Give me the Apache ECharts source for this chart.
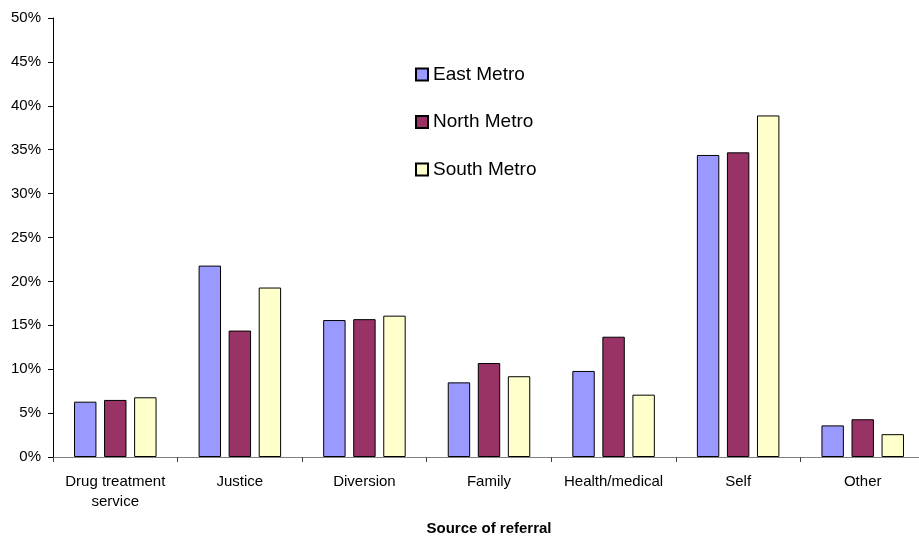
<!DOCTYPE html>
<html>
<head>
<meta charset="utf-8">
<script src="https://cdn.jsdelivr.net/npm/echarts@6/dist/echarts.min.js"></script>
<style>
  html, body { margin: 0; padding: 0; background: #fff; }
  #chart { width: 919px; height: 536px; }
</style>
</head>
<body>
<div id="chart"></div>
<script>
// Source of referral, share of clients by metro region (%)
const categories = ['Drug treatment\nservice', 'Justice', 'Diversion', 'Family', 'Health/medical', 'Self', 'Other'];
const eastMetro  = [6.3, 21.8, 15.6, 8.5, 9.8, 34.4, 3.6];
const northMetro = [6.5, 14.4, 15.7, 10.7, 13.7, 34.7, 4.3];
const southMetro = [6.8, 19.3, 16.1, 9.2, 7.1, 38.9, 2.6];
const seriesNames = ['East Metro', 'North Metro', 'South Metro'];
const seriesColors = ['#9999FF', '#993366', '#FFFFCC'];

const FONT = '"Liberation Sans", Arial, sans-serif';
const values = [eastMetro, northMetro, southMetro];

const chart = echarts.init(document.getElementById('chart'), null, { renderer: 'canvas' });

chart.setOption({
  animation: false,
  backgroundColor: '#ffffff',
  textStyle: { fontFamily: FONT, color: '#000' },
  grid: { left: 53, right: -6, top: 18, bottom: 79, containLabel: false, outerBoundsMode: 'none' },
  legend: {
    orient: 'vertical',
    left: 410,
    top: 60,
    itemWidth: 12,
    itemHeight: 12,
    itemGap: 28.5,
    icon: 'rect',
    textStyle: { fontFamily: FONT, fontSize: 19, color: '#000' },
    data: seriesNames
  },
  xAxis: {
    type: 'category',
    data: categories,
    name: 'Source of referral',
    nameLocation: 'middle',
    nameGap: 64,
    nameTextStyle: { fontFamily: FONT, fontSize: 15, fontWeight: 'bold', color: '#000' },
    axisLine: { lineStyle: { color: '#808080', width: 1 } },
    axisTick: { show: true, length: 5, lineStyle: { color: '#404040' } },
    axisLabel: { fontFamily: FONT, fontSize: 15, color: '#000', lineHeight: 20, margin: 15, interval: 0 },
    splitLine: { show: false }
  },
  yAxis: {
    type: 'value',
    min: 0,
    max: 50,
    interval: 5,
    axisLine: { show: true, lineStyle: { color: '#000', width: 1 } },
    axisTick: { show: true, length: 5, lineStyle: { color: '#000' } },
    axisLabel: { fontFamily: FONT, fontSize: 15, color: '#000', margin: 12, formatter: '{value}%' },
    splitLine: { show: false }
  },
  series: seriesNames.map((name, i) => ({
    name: name,
    type: 'bar',
    data: values[i],
    barWidth: '18%',
    barGap: '34%',
    itemStyle: { color: seriesColors[i], borderColor: '#000', borderWidth: 1 }
  }))
});
</script>
</body>
</html>
